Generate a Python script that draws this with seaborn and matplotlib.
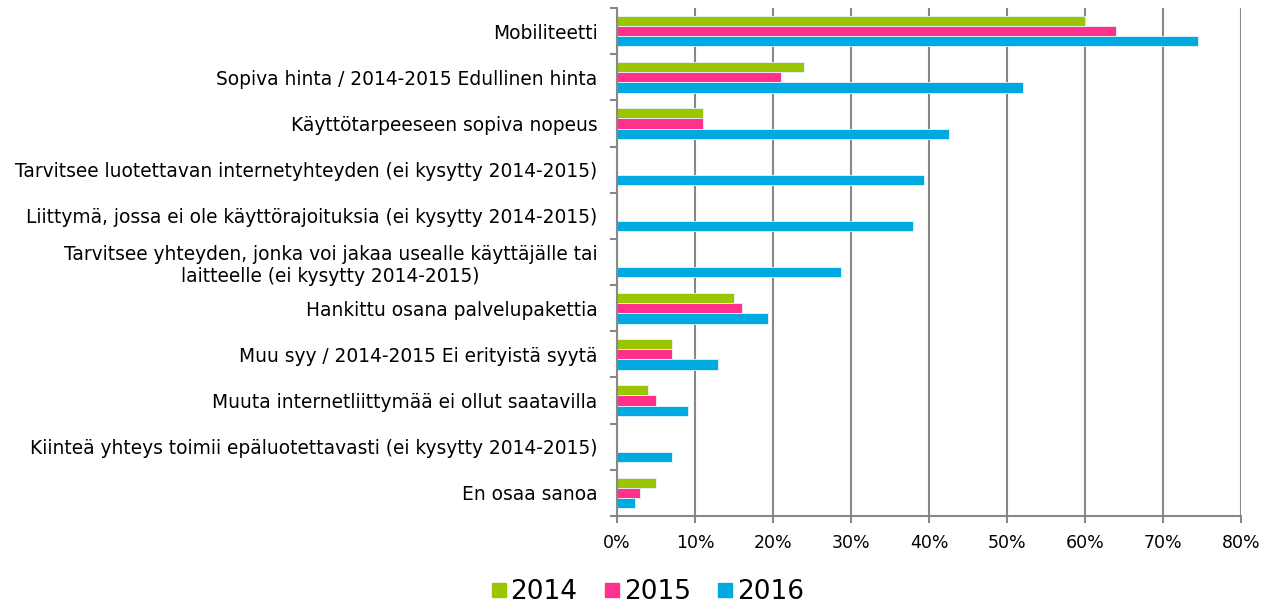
import numpy as np
import pandas as pd
import matplotlib
matplotlib.use("Agg")
import matplotlib.pyplot as plt
from matplotlib.lines import Line2D
from matplotlib.ticker import FuncFormatter, MultipleLocator, FixedLocator
import seaborn as sns

categories = [
    "Mobiliteetti",
    "Sopiva hinta / 2014-2015 Edullinen hinta",
    "Käyttötarpeeseen sopiva nopeus",
    "Tarvitsee luotettavan internetyhteyden (ei kysytty 2014-2015)",
    "Liittymä, jossa ei ole käyttörajoituksia (ei kysytty 2014-2015)",
    "Tarvitsee yhteyden, jonka voi jakaa usealle käyttäjälle tai\nlaitteelle (ei kysytty 2014-2015)",
    "Hankittu osana palvelupakettia",
    "Muu syy / 2014-2015 Ei erityistä syytä",
    "Muuta internetliittymää ei ollut saatavilla",
    "Kiinteä yhteys toimii epäluotettavasti (ei kysytty 2014-2015)",
    "En osaa sanoa",
]
years = ["2014", "2015", "2016"]
v2014 = [60, 24, 11, np.nan, np.nan, np.nan, 15, 7, 4, np.nan, 5]
v2015 = [64, 21, 11, np.nan, np.nan, np.nan, 16, 7, 5, np.nan, 3]
v2016 = [74.5, 52, 42.5, 39.4, 37.9, 28.7, 19.4, 12.9, 9.1, 7.0, 2.3]
colors = ["#99C600", "#FF318C", "#00A9DF"]

rows = []
for y, vals in zip(years, [v2014, v2015, v2016]):
    for c, v in zip(categories, vals):
        rows.append({"Kategoria": c, "Vuosi": y, "Osuus": v})
df = pd.DataFrame(rows)

sns.set_style("white")
plt.rcParams["font.family"] = ["DejaVu Sans"]
plt.rcParams["text.color"] = "black"

fig = plt.figure(figsize=(12.73, 6.05), dpi=100)
ax = fig.add_axes([617 / 1273, 1 - 516 / 605, (1241 - 617) / 1273, (516 - 8) / 605])

sns.barplot(data=df, y="Kategoria", x="Osuus", hue="Vuosi", order=categories,
            hue_order=years, palette=colors, saturation=1, orient="h", width=0.665,
            edgecolor="#E8F4F8", linewidth=0.6, ax=ax, legend=False, errorbar=None)

grid_c = "#888888"
ax.set_xlim(0, 80)
ax.set_ylim(len(categories) - 0.5, -0.5)
ax.xaxis.set_major_locator(MultipleLocator(10))
ax.xaxis.set_major_formatter(FuncFormatter(lambda v, p: f"{int(round(v))}%"))
ax.grid(axis="x", color=grid_c, linewidth=1.5)
ax.grid(axis="y", visible=False)
ax.set_axisbelow(True)
ax.set_xlabel("")
ax.set_ylabel("")

for s in ["top", "right"]:
    ax.spines[s].set_visible(False)
for s in ["left", "bottom"]:
    ax.spines[s].set_visible(True)
    ax.spines[s].set_color(grid_c)
    ax.spines[s].set_linewidth(1.5)

ax.yaxis.set_minor_locator(FixedLocator(np.arange(-0.5, len(categories), 1)))
ax.tick_params(axis="y", which="major", length=0, pad=14, labelsize=13.4, labelcolor="black")
ax.tick_params(axis="y", which="minor", length=5, width=1.5, color=grid_c, left=True)
ax.tick_params(axis="x", which="major", length=5, width=1.5, color=grid_c, bottom=True,
               pad=8, labelsize=12.5, labelcolor="black")
for t in ax.get_yticklabels():
    t.set_horizontalalignment("right")
    t.set_multialignment("center")

handles = [Line2D([], [], marker="s", linestyle="none", markersize=10,
                  markerfacecolor=c, markeredgecolor=c) for c in colors]
leg = fig.legend(handles, years, loc="center", bbox_to_anchor=(646 / 1273, 1 - 592 / 605),
                 ncol=3, frameon=False, fontsize=19, handletextpad=0.05,
                 columnspacing=0.9, handlelength=0.8)
for t in leg.get_texts():
    t.set_color("black")

fig.savefig("out.png", dpi=100)
